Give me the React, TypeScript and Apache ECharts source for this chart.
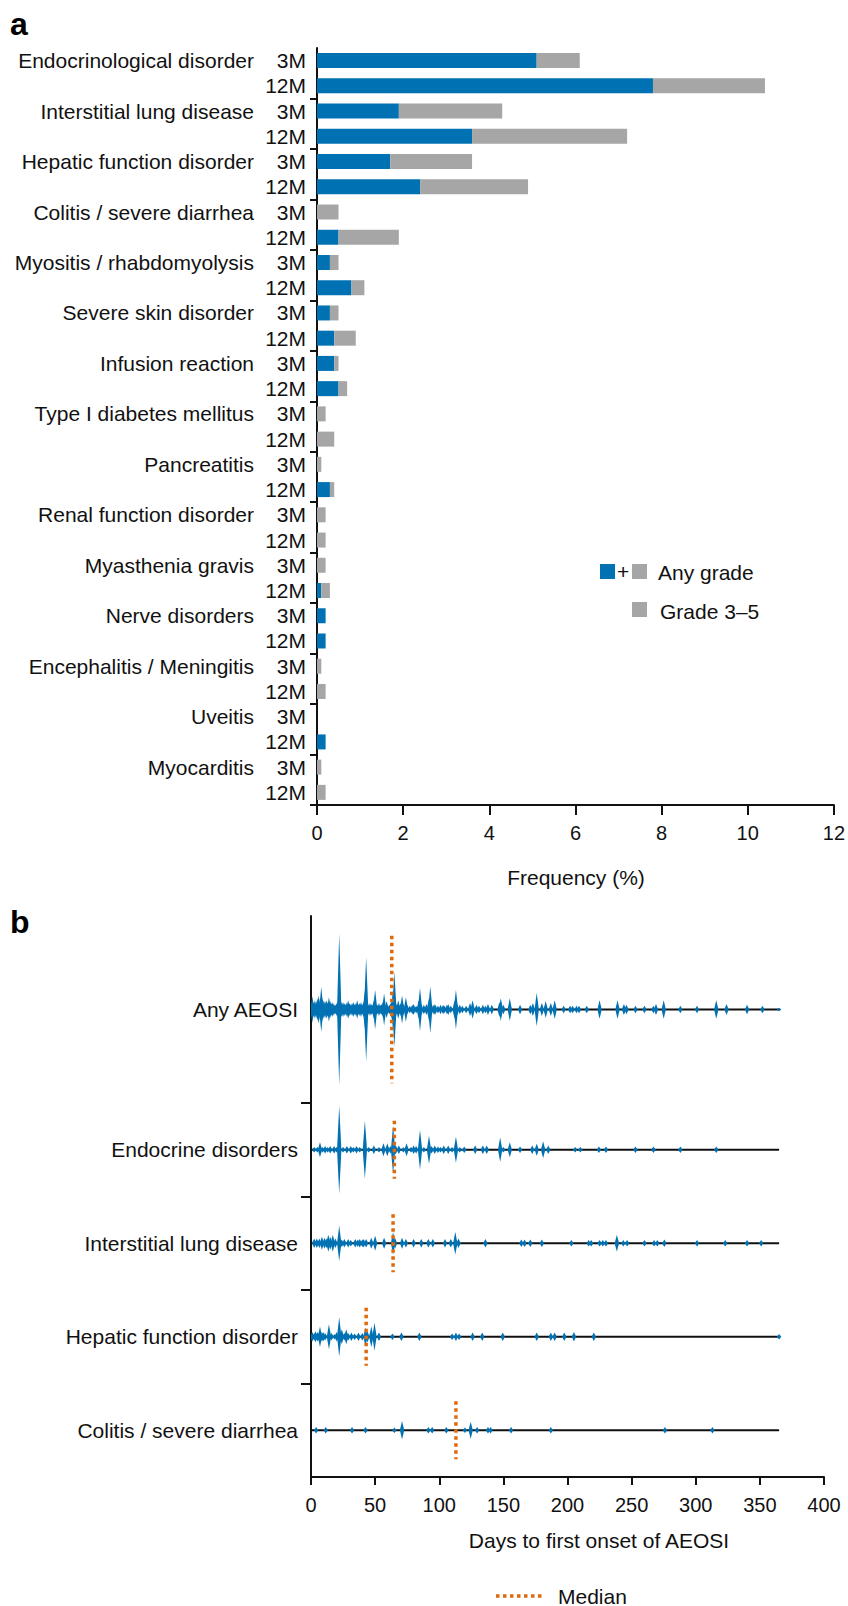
import React, { useEffect, useRef } from "react";
import * as echarts from "echarts";

// ---------- Panel a data ----------
const DISEASES = [
  "Endocrinological disorder",
  "Interstitial lung disease",
  "Hepatic function disorder",
  "Colitis / severe diarrhea",
  "Myositis / rhabdomyolysis",
  "Severe skin disorder",
  "Infusion reaction",
  "Type I diabetes mellitus",
  "Pancreatitis",
  "Renal function disorder",
  "Myasthenia gravis",
  "Nerve disorders",
  "Encephalitis / Meningitis",
  "Uveitis",
  "Myocarditis",
];
const PERIODS = ["3M", "12M"];
// blue part of each bar
const blue3M = [5.1, 1.9, 1.7, 0, 0.3, 0.3, 0.4, 0, 0, 0, 0, 0.2, 0, 0, 0];
const blue12M = [7.8, 3.6, 2.4, 0.5, 0.8, 0.4, 0.5, 0, 0.3, 0, 0.1, 0.2, 0, 0.2, 0];
// total bar length (blue + gray)
const total3M = [6.1, 4.3, 3.6, 0.5, 0.5, 0.5, 0.5, 0.2, 0.1, 0.2, 0.2, 0.2, 0.1, 0, 0.1];
const total12M = [10.4, 7.2, 4.9, 1.9, 1.1, 0.9, 0.7, 0.4, 0.4, 0.2, 0.3, 0.2, 0.2, 0.2, 0.2];
const freqTicks = [0, 2, 4, 6, 8, 10, 12];

// ---------- Panel b data ----------
const ROWS = ["Any AEOSI", "Endocrine disorders", "Interstitial lung disease", "Hepatic function disorder", "Colitis / severe diarrhea"];
const MEDIANS = [63, 65, 64, 43, 113];
const FOLLOW_UP_END = 365;
// [day, density] spikes of each violin
const anyAeosi = [
  [1, 0.14], [2, 0.08], [3, 0.1], [4, 0.09], [5, 0.12], [6, 0.15], [7, 0.1], [8, 0.24], [9, 0.12], [10, 0.1],
  [11, 0.09], [12, 0.1], [13, 0.08], [14, 0.13], [15, 0.09], [16, 0.07], [17, 0.08], [18, 0.06], [19, 0.05], [20, 0.07],
  [21, 0.09], [22, 0.81], [23, 0.1], [24, 0.08], [25, 0.08], [26, 0.07], [27, 0.06], [28, 0.08], [29, 0.1], [30, 0.07],
  [31, 0.06], [32, 0.07], [33, 0.08], [34, 0.06], [35, 0.07], [36, 0.1], [37, 0.06], [38, 0.07], [39, 0.08], [40, 0.06],
  [41, 0.08], [42, 0.2], [43, 0.56], [44, 0.09], [45, 0.05], [46, 0.07], [47, 0.06], [48, 0.05], [49, 0.1], [50, 0.21],
  [51, 0.06], [52, 0.05], [53, 0.07], [54, 0.05], [55, 0.06], [56, 0.08], [57, 0.17], [58, 0.05], [59, 0.09], [60, 0.04],
  [61, 0.05], [62, 0.07], [63, 0.1], [64, 0.22], [65, 0.4], [66, 0.08], [67, 0.05], [68, 0.1], [69, 0.05], [70, 0.07],
  [71, 0.15], [72, 0.06], [74, 0.13], [75, 0.05], [77, 0.04], [79, 0.05], [80, 0.06], [82, 0.04], [84, 0.1], [85, 0.23],
  [86, 0.06], [88, 0.05], [90, 0.06], [92, 0.12], [93, 0.25], [94, 0.06], [96, 0.06], [97, 0.05], [99, 0.04], [101, 0.05],
  [103, 0.05], [104, 0.04], [106, 0.05], [107, 0.06], [109, 0.04], [112, 0.1], [113, 0.21], [114, 0.06], [116, 0.05], [118, 0.04],
  [121, 0.04], [124, 0.07], [126, 0.1], [129, 0.05], [131, 0.04], [134, 0.05], [136, 0.04], [138, 0.06], [141, 0.05], [147, 0.08],
  [148, 0.12], [150, 0.05], [155, 0.12], [163, 0.05], [171, 0.05], [173, 0.07], [176, 0.18], [180, 0.07], [183, 0.09], [187, 0.07],
  [190, 0.1], [197, 0.04], [202, 0.04], [204, 0.04], [207, 0.04], [209, 0.04], [215, 0.04], [225, 0.1], [239, 0.1], [244, 0.06],
  [246, 0.05], [253, 0.04], [260, 0.04], [267, 0.04], [269, 0.06], [275, 0.1], [288, 0.04], [301, 0.04], [316, 0.1], [324, 0.06],
  [340, 0.05], [352, 0.04], [365, 0.02],
];
const endocrine = [
  [2.5, 0.03], [5, 0.03], [7, 0.08], [9, 0.03], [11, 0.04], [13, 0.03], [15, 0.04], [18, 0.04], [20, 0.03], [22, 0.47],
  [25, 0.03], [28, 0.04], [31, 0.04], [33, 0.03], [35.5, 0.04], [38, 0.03], [42, 0.31], [45, 0.03], [49, 0.045], [53, 0.03],
  [56.5, 0.07], [59.5, 0.07], [62, 0.04], [64, 0.26], [66, 0.05], [68.5, 0.045], [72, 0.03], [74.5, 0.07], [78, 0.03], [80, 0.045],
  [82, 0.04], [85, 0.21], [88, 0.03], [92, 0.15], [94, 0.04], [96.5, 0.045], [99, 0.035], [101, 0.03], [103.5, 0.045], [107, 0.045],
  [110, 0.03], [113, 0.14], [116, 0.03], [119.5, 0.035], [128, 0.045], [134, 0.045], [137, 0.045], [147.5, 0.13], [150, 0.03], [155, 0.08],
  [163, 0.035], [172.5, 0.045], [176, 0.065], [181, 0.09], [185, 0.045], [206, 0.03], [210, 0.03], [224.5, 0.035], [230, 0.035], [253, 0.035],
  [267, 0.035], [288, 0.035], [316, 0.035],
];
const ild = [
  [2.5, 0.05], [4.5, 0.05], [6.5, 0.05], [8.5, 0.07], [10.5, 0.06], [12, 0.05], [13.5, 0.09], [15, 0.07], [17, 0.09], [19, 0.05],
  [22, 0.19], [24, 0.04], [26, 0.045], [29, 0.045], [31, 0.035], [34.5, 0.045], [36.5, 0.04], [38, 0.045], [40, 0.04], [41, 0.045],
  [43, 0.045], [47, 0.06], [50, 0.08], [57, 0.06], [64, 0.12], [65.5, 0.06], [71, 0.06], [74, 0.045], [80, 0.045], [86, 0.045],
  [91.5, 0.045], [95, 0.045], [104.5, 0.045], [109, 0.045], [112.5, 0.12], [115, 0.05], [136, 0.045], [164, 0.04], [166.5, 0.04], [171, 0.04],
  [180, 0.04], [203, 0.035], [216.5, 0.035], [218.5, 0.035], [225, 0.035], [227.5, 0.035], [230, 0.035], [238.5, 0.09], [243.5, 0.035], [246.5, 0.035],
  [260, 0.035], [267.5, 0.035], [270, 0.035], [275.5, 0.04], [301, 0.035], [323, 0.035], [340, 0.035], [351, 0.035],
];
const hepatic = [
  [1, 0.05], [2.5, 0.04], [3.5, 0.06], [5, 0.05], [6, 0.04], [7, 0.11], [8.5, 0.05], [9.5, 0.05], [11, 0.04], [14, 0.135],
  [16, 0.04], [18.5, 0.03], [20, 0.05], [22, 0.21], [24, 0.08], [26, 0.04], [27.5, 0.08], [29, 0.04], [31.5, 0.045], [34, 0.035],
  [37, 0.045], [40, 0.04], [42.5, 0.1], [44, 0.06], [47, 0.11], [49.5, 0.15], [53, 0.045], [63.5, 0.035], [70.5, 0.045], [84.5, 0.045],
  [110, 0.035], [113, 0.045], [115.5, 0.035], [126, 0.045], [133.5, 0.045], [149.5, 0.045], [176, 0.045], [187, 0.045], [190, 0.045], [197.5, 0.045],
  [205, 0.05], [220.5, 0.045], [365, 0.03],
];
const colitis = [
  [4, 0.036], [11.5, 0.036], [32, 0.036], [42.5, 0.036], [65, 0.03], [71, 0.1], [91.5, 0.036], [94.5, 0.036], [105.5, 0.036], [120, 0.03],
  [124.5, 0.09], [129.5, 0.036], [138, 0.036], [140, 0.036], [156, 0.036], [187, 0.036], [276, 0.036], [313, 0.036],
];
const dayTicks = [0, 50, 100, 150, 200, 250, 300, 350, 400];

// ---------- layout / style constants ----------
const ROW_CENTERS = [5, 3.5, 2.5, 1.5, 0.5];
const MEDIAN_HALF = [0.79, 0.31, 0.31, 0.31, 0.31];
const SPIKE_HALF_WIDTH = 1.7; // days
const BLUE = "#0071B3";
const GRAY = "#A6A6A6";
const ORANGE = "#DE6A0E";
const INK = "#111111";
const FONT = 'Arial, "Liberation Sans", Helvetica, sans-serif';

export default function App() {
  const ref = useRef<HTMLDivElement>(null);

  useEffect(() => {
    if (!ref.current) return;
    const chart = echarts.init(ref.current, undefined, { renderer: "svg" });

    const catsA = DISEASES.flatMap((d) => PERIODS.map((p) => d + "|" + p));
    const blueData = DISEASES.flatMap((_, i) => [blue3M[i], blue12M[i]]);
    const grayData = DISEASES.flatMap((_, i) => [
      Math.round((total3M[i] - blue3M[i]) * 100) / 100,
      Math.round((total12M[i] - blue12M[i]) * 100) / 100,
    ]);

    const violins = [anyAeosi, endocrine, ild, hepatic, colitis];
    const spikeData: number[][] = [];
    violins.forEach((arr, r) => arr.forEach(([d, h]) => spikeData.push([d, ROW_CENTERS[r], h])));
    const lineData = ROW_CENTERS.map((c) => [0, c, FOLLOW_UP_END]);
    const medianData = MEDIANS.map((m, r) => [m, ROW_CENTERS[r], MEDIAN_HALF[r]]);

    const labelA = { color: INK, fontSize: 21, fontFamily: FONT };

    const option: any = {
      animation: false,
      backgroundColor: "#fff",
      textStyle: { fontFamily: FONT },
      grid: [
        { left: 317, top: 48, width: 519, height: 757, containLabel: false },
        { left: 311, top: 916, width: 513, height: 561, containLabel: false },
      ],
      xAxis: [
        {
          type: "value",
          gridIndex: 0,
          min: freqTicks[0],
          max: freqTicks[freqTicks.length - 1],
          interval: 2,
          axisLine: { show: true, lineStyle: { color: INK, width: 2 } },
          axisTick: { show: true, length: 10, lineStyle: { color: INK, width: 2 } },
          axisLabel: { ...labelA, fontSize: 20, margin: 18 },
          splitLine: { show: false },
        },
        {
          type: "value",
          gridIndex: 1,
          min: dayTicks[0],
          max: dayTicks[dayTicks.length - 1],
          interval: 50,
          axisLine: { show: true, lineStyle: { color: INK, width: 2 } },
          axisTick: { show: true, length: 8, lineStyle: { color: INK, width: 2 } },
          axisLabel: { ...labelA, fontSize: 20, margin: 18 },
          splitLine: { show: false },
        },
      ],
      yAxis: [
        {
          type: "category",
          gridIndex: 0,
          inverse: true,
          data: catsA,
          axisLine: { show: true, lineStyle: { color: INK, width: 2 } },
          axisTick: {
            show: true,
            length: 7,
            interval: (i: number) => i % 2 === 0 && i > 0,
            lineStyle: { color: INK, width: 2 },
          },
          axisLabel: {
            ...labelA,
            interval: 0,
            margin: 11,
            formatter: (v: string) => v.split("|")[1],
          },
        },
        {
          type: "category",
          gridIndex: 0,
          inverse: true,
          position: "left",
          data: catsA,
          axisLine: { show: false },
          axisTick: { show: false },
          axisLabel: {
            ...labelA,
            interval: 0,
            margin: 63,
            formatter: (v: string) => (v.split("|")[1] === "3M" ? v.split("|")[0] : ""),
          },
        },
        {
          type: "value",
          gridIndex: 1,
          min: 0,
          max: 6,
          interval: 0.5,
          axisLine: { show: true, lineStyle: { color: INK, width: 2 } },
          axisTick: { show: true, length: 10, customValues: [1, 2, 3, 4], lineStyle: { color: INK, width: 2 } },
          axisLabel: {
            ...labelA,
            margin: 13,
            customValues: ROW_CENTERS,
            formatter: (v: number) => {
              const idx = ROW_CENTERS.indexOf(v);
              return idx >= 0 ? ROWS[idx] : "";
            },
          },
          splitLine: { show: false },
        },
      ],
      series: [
        {
          type: "bar",
          name: "blue",
          xAxisIndex: 0,
          yAxisIndex: 0,
          stack: "a",
          barWidth: 15,
          data: blueData,
          itemStyle: { color: BLUE },
          silent: true,
        },
        {
          type: "bar",
          name: "gray",
          xAxisIndex: 0,
          yAxisIndex: 0,
          stack: "a",
          barWidth: 15,
          data: grayData,
          itemStyle: { color: GRAY },
          silent: true,
        },
        {
          type: "custom",
          xAxisIndex: 1,
          yAxisIndex: 2,
          silent: true,
          encode: { x: [0, 2], y: 1 },
          data: lineData,
          renderItem: (_p: any, api: any) => {
            const a = api.coord([api.value(0), api.value(1)]);
            const b = api.coord([api.value(2), api.value(1)]);
            return {
              type: "line",
              shape: { x1: a[0], y1: a[1], x2: b[0], y2: b[1] },
              style: { stroke: INK, lineWidth: 2 },
            };
          },
          z: 2,
        },
        {
          type: "custom",
          xAxisIndex: 1,
          yAxisIndex: 2,
          silent: true,
          clip: true,
          encode: { x: 0, y: 1 },
          data: spikeData,
          renderItem: (_p: any, api: any) => {
            const d = api.value(0);
            const c = api.value(1);
            const h = api.value(2);
            const pts = [
              api.coord([d - SPIKE_HALF_WIDTH, c]),
              api.coord([d, c + h]),
              api.coord([d + SPIKE_HALF_WIDTH, c]),
              api.coord([d, c - h]),
            ];
            return { type: "polygon", shape: { points: pts }, style: { fill: BLUE } };
          },
          z: 3,
        },
        {
          type: "custom",
          xAxisIndex: 1,
          yAxisIndex: 2,
          silent: true,
          encode: { x: 0, y: 1 },
          data: medianData,
          renderItem: (_p: any, api: any) => {
            const m = api.value(0);
            const c = api.value(1);
            const hl = api.value(2);
            const a = api.coord([m, c + hl]);
            const b = api.coord([m, c - hl]);
            return {
              type: "line",
              shape: { x1: a[0], y1: a[1], x2: b[0], y2: b[1] },
              style: { stroke: ORANGE, lineWidth: 3.5, lineDash: [3.5, 3.5] },
            };
          },
          z: 4,
        },
      ],
      graphic: [
        { type: "text", x: 10, y: 24, style: { text: "a", fontSize: 32, fontWeight: "bold", fontFamily: FONT, fill: "#000", verticalAlign: "middle" } },
        { type: "text", x: 10, y: 922, style: { text: "b", fontSize: 32, fontWeight: "bold", fontFamily: FONT, fill: "#000", verticalAlign: "middle" } },
        // legend of panel a
        { type: "rect", shape: { x: 600, y: 564, width: 15, height: 15 }, style: { fill: BLUE } },
        { type: "text", x: 623, y: 571, style: { text: "+", fontSize: 21, fontFamily: FONT, fill: INK, align: "center", verticalAlign: "middle" } },
        { type: "rect", shape: { x: 632, y: 564, width: 15, height: 15 }, style: { fill: GRAY } },
        { type: "text", x: 658, y: 572, style: { text: "Any grade", fontSize: 21, fontFamily: FONT, fill: INK, align: "left", verticalAlign: "middle" } },
        { type: "rect", shape: { x: 632, y: 602, width: 15, height: 15 }, style: { fill: GRAY } },
        { type: "text", x: 660, y: 611, style: { text: "Grade 3–5", fontSize: 21, fontFamily: FONT, fill: INK, align: "left", verticalAlign: "middle" } },
        // axis titles
        { type: "text", x: 576, y: 877, style: { text: "Frequency (%)", fontSize: 21, fontFamily: FONT, fill: INK, align: "center", verticalAlign: "middle" } },
        { type: "text", x: 599, y: 1540, style: { text: "Days to first onset of AEOSI", fontSize: 21, fontFamily: FONT, fill: INK, align: "center", verticalAlign: "middle" } },
        // median legend
        { type: "line", shape: { x1: 496, y1: 1596, x2: 545, y2: 1596 }, style: { stroke: ORANGE, lineWidth: 3.5, lineDash: [3.5, 3.5] } },
        { type: "text", x: 558, y: 1596, style: { text: "Median", fontSize: 21, fontFamily: FONT, fill: INK, align: "left", verticalAlign: "middle" } },
      ],
    };

    chart.setOption(option);
    return () => chart.dispose();
  }, []);

  return (
    <div
      ref={ref}
      style={{ position: "absolute", left: 0, top: 0, width: 848, height: 1606, background: "#fff" }}
    />
  );
}
